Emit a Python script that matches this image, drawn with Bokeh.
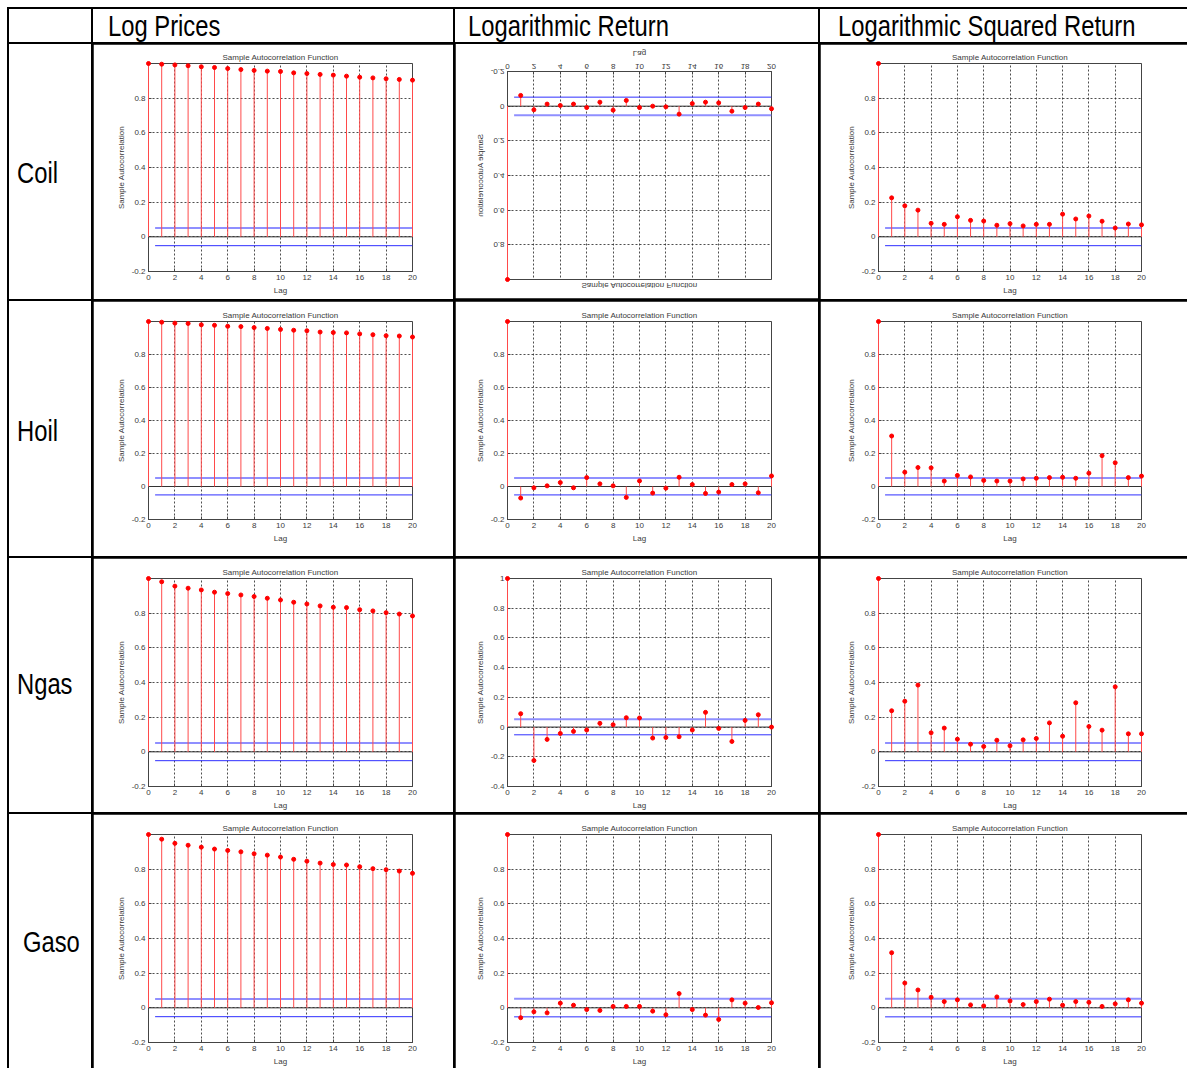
from bokeh.plotting import figure
from bokeh.models import GridBox, Div, Range1d, FixedTicker, Span, CustomJSTickFormatter
from bokeh.embed import file_html
from bokeh.resources import INLINE

# ---------------- data ----------------
lags = list(range(21))

row_names = ["Coil", "Hoil", "Ngas", "Gaso"]
col_names = ["Log Prices", "Logarithmic Return", "Logarithmic Squared Return"]

coil_price = [1.0, 0.996, 0.992, 0.987, 0.981, 0.977, 0.971, 0.965, 0.960, 0.956, 0.954,
              0.946, 0.942, 0.937, 0.933, 0.927, 0.921, 0.917, 0.912, 0.908, 0.904]
hoil_price = [1.0, 0.996, 0.990, 0.988, 0.980, 0.977, 0.971, 0.969, 0.963, 0.958, 0.952,
              0.947, 0.944, 0.936, 0.933, 0.931, 0.925, 0.920, 0.914, 0.912, 0.906]
ngas_price = [1.0, 0.981, 0.956, 0.944, 0.934, 0.921, 0.913, 0.905, 0.896, 0.886, 0.876,
              0.863, 0.853, 0.842, 0.834, 0.832, 0.820, 0.813, 0.803, 0.795, 0.784]
gaso_price = [1.0, 0.973, 0.949, 0.938, 0.927, 0.916, 0.908, 0.900, 0.889, 0.881, 0.870,
              0.857, 0.846, 0.835, 0.827, 0.824, 0.814, 0.803, 0.797, 0.789, 0.776]

coil_ret = [1.0, -0.062, 0.021, -0.012, -0.004, -0.012, 0.008, -0.023, 0.023, -0.033, 0.008,
            0.0, 0.004, 0.046, -0.015, -0.023, -0.019, 0.029, 0.008, -0.012, 0.015]
hoil_ret = [1.0, -0.070, -0.008, 0.004, 0.024, -0.008, 0.054, 0.016, 0.004, -0.066, 0.034,
            -0.040, -0.010, 0.056, 0.012, -0.042, -0.034, 0.012, 0.016, -0.038, 0.064]
ngas_ret = [1.0, 0.090, -0.225, -0.083, -0.043, -0.029, -0.020, 0.025, 0.016, 0.063, 0.061,
            -0.074, -0.070, -0.065, -0.020, 0.099, -0.009, -0.097, 0.045, 0.083, 0.0]
gaso_ret = [1.0, -0.057, -0.023, -0.029, 0.027, 0.015, -0.010, -0.015, 0.008, 0.008, 0.008,
            -0.019, -0.040, 0.082, -0.010, -0.042, -0.067, 0.046, 0.027, 0.002, 0.029]

coil_sq = [1.0, 0.225, 0.179, 0.154, 0.078, 0.072, 0.116, 0.095, 0.091, 0.067, 0.076,
           0.063, 0.072, 0.072, 0.131, 0.103, 0.120, 0.090, 0.051, 0.074, 0.069]
hoil_sq = [1.0, 0.306, 0.087, 0.115, 0.113, 0.033, 0.067, 0.058, 0.037, 0.033, 0.033,
           0.046, 0.050, 0.054, 0.056, 0.050, 0.081, 0.187, 0.144, 0.054, 0.063]
ngas_sq = [1.0, 0.237, 0.292, 0.385, 0.110, 0.137, 0.073, 0.044, 0.031, 0.067, 0.035,
           0.069, 0.077, 0.167, 0.090, 0.283, 0.146, 0.125, 0.375, 0.104, 0.104]
gaso_sq = [1.0, 0.318, 0.143, 0.103, 0.061, 0.036, 0.046, 0.017, 0.011, 0.063, 0.040,
           0.019, 0.036, 0.050, 0.015, 0.036, 0.032, 0.008, 0.023, 0.046, 0.027]

# confidence bounds (+/-) per row, per column
bounds = [[0.051, 0.052, 0.051],
          [0.051, 0.051, 0.051],
          [0.051, 0.052, 0.051],
          [0.051, 0.052, 0.052]]

x_ticks = [0, 2, 4, 6, 8, 10, 12, 14, 16, 18, 20]
y_ticks_std = [-0.2, 0, 0.2, 0.4, 0.6, 0.8]
y_ticks_wide = [-0.4, -0.2, 0, 0.2, 0.4, 0.6, 0.8, 1]

series = [[coil_price, coil_ret, coil_sq],
          [hoil_price, hoil_ret, hoil_sq],
          [ngas_price, ngas_ret, ngas_sq],
          [gaso_price, gaso_ret, gaso_sq]]

# ---------------- layout geometry ----------------
col_w = [82, 360, 363, 367]
row_h = [33, 255, 255, 254, 254]
# frame borders (left, right) per data column
lr = [(55, 41), (52, 47), (58, 46)]
# (top, frame height) per row/col
tb = [[(19, 208), (19, 208), (19, 208)],
      [(20, 208), (18, 200), (20, 208)],
      [(20, 208), (20, 208), (20, 208)],
      [(20, 208), (20, 208), (20, 208)]]

TXT = "#3a3a3a"
FONT = "Liberation Sans"

fmt = CustomJSTickFormatter(code="""
    if (Math.abs(tick) < 1e-9) return '0';
    return String(Math.round(tick * 10) / 10);
""")


def acf_plot(vals, bound, W, H, bl, br, bt, fh, flip=False):
    ylo = -0.4 if min(vals) < -0.2 else -0.2
    yt = y_ticks_wide if ylo < -0.2 else y_ticks_std
    bb = H - bt - fh
    p = figure(width=W, height=H, x_range=Range1d(lags[0], lags[-1]), y_range=Range1d(ylo, 1.0),
               output_backend="svg", toolbar_location=None, margin=0,
               min_border_left=bl, min_border_right=br, min_border_top=bt, min_border_bottom=bb,
               title="Sample Autocorrelation Function",
               background_fill_color="white", border_fill_color="white")
    if flip:
        p.styles = {"transform": "scaleY(-1)"}
    p.title.align = "center"
    p.title.text_font = FONT
    p.title.text_font_size = "8px"
    p.title.text_font_style = "normal"
    p.title.text_color = TXT
    p.title.standoff = 3
    p.outline_line_color = "#444444"
    p.outline_line_width = 1

    p.xaxis.ticker = FixedTicker(ticks=x_ticks)
    p.yaxis.ticker = FixedTicker(ticks=yt)
    p.xgrid.ticker = FixedTicker(ticks=x_ticks)
    p.ygrid.ticker = FixedTicker(ticks=yt)
    p.xaxis.axis_label = "Lag"
    p.yaxis.axis_label = "Sample Autocorrelation"
    for ax in (p.xaxis[0], p.yaxis[0]):
        ax.formatter = fmt
        ax.major_label_text_font = FONT
        ax.major_label_text_font_size = "8px"
        ax.major_label_text_color = TXT
        ax.axis_label_text_font = FONT
        ax.axis_label_text_font_size = "8px"
        ax.axis_label_text_font_style = "normal"
        ax.axis_label_text_color = TXT
        ax.major_label_standoff = 3
        ax.axis_label_standoff = 3
        ax.major_tick_in = 3
        ax.major_tick_out = 0
        ax.minor_tick_line_color = None
        ax.axis_line_color = "#444444"
        ax.major_tick_line_color = "#444444"
    for g in (p.xgrid[0], p.ygrid[0]):
        g.grid_line_color = "#222222"
        g.grid_line_alpha = 0.8
        g.grid_line_dash = "2 2"
        g.grid_line_width = 1

    # zero line
    p.add_layout(Span(location=0, dimension="width", line_color="#333333", line_width=1))
    # confidence bounds (upper drawn lighter/wider, lower crisp, as in the source)
    p.segment(x0=[0.5], y0=[bound], x1=[lags[-1]], y1=[bound],
              line_color="#8f8fff", line_width=2)
    p.segment(x0=[0.5], y0=[-bound], x1=[lags[-1]], y1=[-bound],
              line_color="#2f2fff", line_width=1)
    # stems
    p.segment(x0=lags, y0=[0] * len(lags), x1=lags, y1=vals, line_color="#ff4a4a",
              line_width=1, level="overlay")
    p.scatter(lags, vals, size=4, marker="circle", fill_color="#ff0000", line_color="#ff0000",
              level="overlay")
    return p


def text_div(text, w, h, left, top):
    html = (f'<div style="position:relative;width:{w}px;height:{h}px;overflow:hidden;background:white;">'
            f'<span style="position:absolute;left:{left}px;top:{top}px;font-family:\'Liberation Sans\',Arial,sans-serif;'
            f'font-size:29px;line-height:29px;color:#000;white-space:nowrap;display:inline-block;'
            f'transform:scaleX(0.82);transform-origin:0 0;">{text}</span></div>')
    return Div(text=html, width=w, height=h, margin=0, styles={"background-color": "white"})


children = []
children.append((Div(text="", width=col_w[0], height=row_h[0], margin=0,
                     styles={"background-color": "white"}), 0, 0))
hdr_left = [15, 13, 18]
for j, name in enumerate(col_names):
    children.append((text_div(name, col_w[j + 1], row_h[0], hdr_left[j], 3), 0, j + 1))

lab_left = [8, 8, 8, 14]
lab_top = [115, 116, 112, 114]
for i, name in enumerate(row_names):
    children.append((text_div(name, col_w[0], row_h[i + 1], lab_left[i], lab_top[i]), i + 1, 0))
    for j in range(3):
        bl, br = lr[j]
        bt, fh = tb[i][j]
        p = acf_plot(series[i][j], bounds[i][j], col_w[j + 1], row_h[i + 1], bl, br, bt, fh,
                     flip=(i == 0 and j == 1))
        children.append((p, i + 1, j + 1))

grid = GridBox(children=children, spacing=2, margin=(9, 0, 0, 9),
               styles={"background-color": "black", "outline": "2px solid black"})

open("out.html", "w").write(file_html(grid, INLINE))
